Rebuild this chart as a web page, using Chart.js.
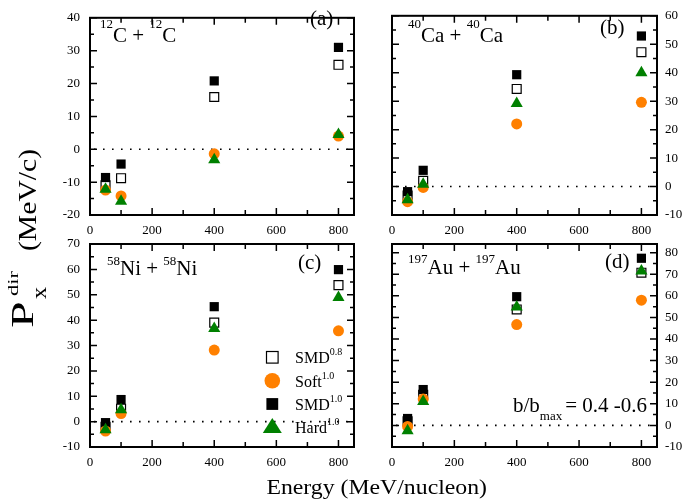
<!DOCTYPE html>
<html><head><meta charset="utf-8">
<script src="https://cdn.jsdelivr.net/npm/chart.js@4.4.0/dist/chart.umd.min.js"></script>
<style>
html,body{margin:0;padding:0;background:#fff;}
#wrap{position:relative;width:684px;height:502px;overflow:hidden;}
#wrap canvas{position:absolute;left:0;top:0;}
</style></head><body>
<div id="wrap">
<canvas id="pa" width="684" height="502"></canvas>
<canvas id="pb" width="684" height="502"></canvas>
<canvas id="pc" width="684" height="502"></canvas>
<canvas id="pd" width="684" height="502"></canvas>
</div>
<script>
// ---- data ----
const energies = [50, 100, 400, 800];
const seriesNames = ['SMD0.8', 'Soft1.0', 'SMD1.0', 'Hard1.0'];

// (a) 12C + 12C
const cSMD08 = [-11.0, -8.8, 15.9, 25.7];
const cSoft  = [-12.4, -14.2, -1.4, 4.0];
const cSMD10 = [-8.6, -4.5, 20.8, 31.0];
const cHard  = [-12.2, -15.8, -3.2, 4.5];

// (b) 40Ca + 40Ca
const caSMD08 = [-3.2, 2.0, 34.3, 47.2];
const caSoft  = [-5.3, -0.3, 22.0, 29.6];
const caSMD10 = [-1.8, 5.7, 39.3, 52.9];
const caHard  = [-4.6, 0.8, 29.2, 40.0];

// (c) 58Ni + 58Ni
const niSMD08 = [-2.0, 5.1, 39.0, 53.8];
const niSoft  = [-3.7, 3.2, 28.2, 35.8];
const niSMD10 = [-0.4, 8.7, 45.3, 59.9];
const niHard  = [-3.2, 4.7, 36.7, 48.9];

// (d) 197Au + 197Au
const auSMD08 = [1.9, 14.2, 53.7, 70.7];
const auSoft  = [-0.5, 12.2, 46.7, 58.0];
const auSMD10 = [3.2, 16.6, 59.6, 77.4];
const auHard  = [-2.5, 11.1, 54.8, 71.5];

const W = 684, H = 502;
const FONT = '"Liberation Serif", "Times New Roman", serif';
const ORANGE = '#ff8000', GREEN = '#008000';

function rich(ctx, x, y, parts) {
  for (const p of parts) {
    if (typeof p === 'number') { x += p; continue; }
    const [t, size, dy] = p;
    ctx.font = size + 'px ' + FONT;
    ctx.fillText(t, x, y + dy);
    x += ctx.measureText(t).width;
  }
  return x;
}

// rotated (bottom-to-top) text piece, stretched along its length
function vtext(ctx, t, size, baseX, startY, sx) {
  ctx.save();
  ctx.translate(baseX, startY);
  ctx.rotate(-Math.PI / 2);
  ctx.scale(sx, 1);
  ctx.font = size + 'px ' + FONT;
  ctx.textAlign = 'left';
  ctx.fillText(t, 0, 0);
  ctx.restore();
}

function mk(data) { return energies.map((e, i) => ({x: e, y: data[i]})); }

function makePanel(id, cfg) {
  const yW = cfg.yPos === 'left' ? 90 : 27;
  const xH = 25;
  const a = cfg.area;
  const s = cfg.series;
  const datasets = [
    {label: seriesNames[0], data: mk(s[0]), pointStyle: 'rect', pointRadius: 6.3, borderColor: '#000', borderWidth: 1.2, backgroundColor: '#fff', order: 4},
    {label: seriesNames[1], data: mk(s[1]), pointStyle: 'circle', pointRadius: 5.5, borderColor: ORANGE, borderWidth: 0, backgroundColor: ORANGE, order: 2},
    {label: seriesNames[2], data: mk(s[2]), pointStyle: 'rect', pointRadius: 6.5, borderColor: '#000', borderWidth: 0, backgroundColor: '#000', order: 3},
    {label: seriesNames[3], data: mk(s[3]), pointStyle: 'triangle', pointRadius: 7, borderColor: GREEN, borderWidth: 0, backgroundColor: GREEN, order: 1}
  ];
  datasets.forEach(d => { d.clip = false; d.showLine = false; d.pointHoverRadius = d.pointRadius; });

  const panelPlugin = {
    id: 'panel_' + id,
    beforeDatasetsDraw(chart) {
      const {ctx, chartArea: ca, scales: {y}} = chart;
      const py = y.getPixelForValue(0);
      ctx.save();
      ctx.strokeStyle = '#000';
      ctx.lineWidth = 1.6;
      ctx.setLineDash([1.6, 7.4]);
      ctx.beginPath();
      ctx.moveTo(ca.left + 4, py);
      ctx.lineTo(ca.right, py);
      ctx.stroke();
      ctx.restore();
    },
    afterDatasetsDraw(chart) {
      const {ctx, chartArea: ca, scales: {x, y}} = chart;
      ctx.save();
      ctx.strokeStyle = '#000';
      ctx.lineWidth = 1.5;
      ctx.beginPath();
      for (let v = 100; v <= x.max; v += 100) {
        const px = x.getPixelForValue(v);
        const len = v % 200 === 0 ? 7 : 5;
        ctx.moveTo(px, ca.bottom); ctx.lineTo(px, ca.bottom - len);
        ctx.moveTo(px, ca.top); ctx.lineTo(px, ca.top + len);
      }
      for (let v = Math.ceil(y.min / 5) * 5; v <= y.max; v += 5) {
        const py = y.getPixelForValue(v);
        const len = v % 10 === 0 ? 7 : 4;
        ctx.moveTo(ca.left, py); ctx.lineTo(ca.left + len, py);
        ctx.moveTo(ca.right, py); ctx.lineTo(ca.right - len, py);
      }
      ctx.stroke();
      ctx.lineWidth = 2;
      ctx.strokeRect(ca.left, ca.top, ca.right - ca.left, ca.bottom - ca.top);
      ctx.fillStyle = '#000';
      ctx.textBaseline = 'alphabetic';
      ctx.textAlign = 'left';
      if (cfg.draw) cfg.draw(ctx, chart);
      ctx.restore();
    }
  };

  return new Chart(document.getElementById(id), {
    type: 'scatter',
    data: {datasets},
    plugins: [panelPlugin],
    options: {
      responsive: false,
      devicePixelRatio: 1,
      animation: false,
      events: [],
      layout: {padding: {
        left: cfg.yPos === 'left' ? a.l - yW : a.l,
        right: cfg.yPos === 'right' ? W - a.r - yW : W - a.r,
        top: a.t,
        bottom: H - a.b - xH
      }},
      plugins: {legend: {display: false}, tooltip: {enabled: false}},
      scales: {
        x: {
          type: 'linear', position: 'bottom', min: 0, max: 850,
          grid: {display: false, drawTicks: false}, border: {display: false},
          ticks: {stepSize: 200, includeBounds: false, padding: 8, color: '#000', maxRotation: 0, autoSkip: false,
                  font: {family: FONT, size: 13}},
          afterFit(sc) { sc.height = xH; }
        },
        y: {
          type: 'linear', position: cfg.yPos, min: cfg.yMin, max: cfg.yMax,
          grid: {display: false, drawTicks: false}, border: {display: false},
          ticks: {stepSize: 10, includeBounds: false, padding: cfg.yPos === 'left' ? 10 : 8, color: '#000', autoSkip: false,
                  font: {family: FONT, size: 13}},
          afterFit(sc) { sc.width = yW; }
        }
      }
    }
  });
}

makePanel('pa', {
  series: [cSMD08, cSoft, cSMD10, cHard], yMin: -20, yMax: 40, yPos: 'left',
  area: {l: 90, r: 354, t: 13, b: 215},
  draw(ctx) {
    rich(ctx, 100, 42, [['12', 13, -14], ['C', 21, 0], [' + ', 21, 0], ['12', 13, -14], ['C', 21, 0]]);
    rich(ctx, 310, 25, [['(a)', 21, 0]]);
  }
});
makePanel('pb', {
  series: [caSMD08, caSoft, caSMD10, caHard], yMin: -10, yMax: 60, yPos: 'right',
  area: {l: 392, r: 657, t: 13, b: 215},
  draw(ctx) {
    rich(ctx, 408, 42, [['40', 13, -14], ['Ca', 21, 0], [' + ', 21, 0], ['40', 13, -14], ['Ca', 21, 0]]);
    rich(ctx, 600, 34, [['(b)', 21, 0]]);
  }
});
makePanel('pc', {
  series: [niSMD08, niSoft, niSMD10, niHard], yMin: -10, yMax: 70, yPos: 'left',
  area: {l: 90, r: 354, t: 244, b: 447},
  draw(ctx) {
    rich(ctx, 107, 275, [['58', 13, -10], ['Ni', 21, 0], [' + ', 21, 0], ['58', 13, -10], ['Ni', 21, 0]]);
    rich(ctx, 298, 269, [['(c)', 21, 0]]);
    // legend
    const lx = 272.3;
    ctx.fillStyle = '#fff';
    ctx.fillRect(lx - 5.8, 357.3 - 5.8, 11.6, 11.6);
    ctx.strokeStyle = '#000'; ctx.lineWidth = 1.2;
    ctx.strokeRect(lx - 5.8, 357.3 - 5.8, 11.6, 11.6);
    ctx.fillStyle = ORANGE;
    ctx.beginPath(); ctx.arc(lx, 380.7, 7.8, 0, Math.PI * 2); ctx.fill();
    ctx.fillStyle = '#000';
    ctx.fillRect(lx - 5.9, 404 - 5.9, 11.8, 11.8);
    ctx.fillStyle = GREEN;
    ctx.beginPath(); ctx.moveTo(lx, 418); ctx.lineTo(lx + 9.5, 433); ctx.lineTo(lx - 9.5, 433); ctx.closePath(); ctx.fill();
    ctx.fillStyle = '#000';
    rich(ctx, 295, 363.3, [['SMD', 16, 0], ['0.8', 10, -8]]);
    rich(ctx, 295, 386.7, [['Soft', 16, 0], ['1.0', 10, -8]]);
    rich(ctx, 295, 410, [['SMD', 16, 0], ['1.0', 10, -8]]);
    rich(ctx, 295, 433.3, [['Hard', 16, 0], ['1.0', 10, -8]]);
  }
});
makePanel('pd', {
  series: [auSMD08, auSoft, auSMD10, auHard], yMin: -10, yMax: 84, yPos: 'right',
  area: {l: 392, r: 657, t: 244, b: 447},
  draw(ctx) {
    rich(ctx, 408, 274, [['197', 13, -11], ['Au', 21, 0], [' + ', 21, 0], ['197', 13, -11], ['Au', 21, 0]]);
    rich(ctx, 605, 268, [['(d)', 21, 0]]);
    rich(ctx, 513, 412, [['b/b', 21, 0], ['max', 13, 8], 3, ['= 0.4 -0.6', 21, 0]]);
    // x axis title
    ctx.save();
    ctx.textAlign = 'center';
    ctx.font = '22px ' + FONT;
    ctx.translate(376.7, 494);
    ctx.scale(1.08, 1);
    ctx.fillText('Energy (MeV/nucleon)', 0, 0);
    ctx.restore();
    // y axis title: P_x^dir (MeV/c)
    vtext(ctx, 'P', 31, 33, 328, 1.55);
    vtext(ctx, 'x', 20, 46, 299, 1.2);
    vtext(ctx, 'dir', 15, 18, 296, 1.5);
    vtext(ctx, '(MeV/c)', 26, 36, 251, 1.14);
  }
});
</script>
</body></html>
